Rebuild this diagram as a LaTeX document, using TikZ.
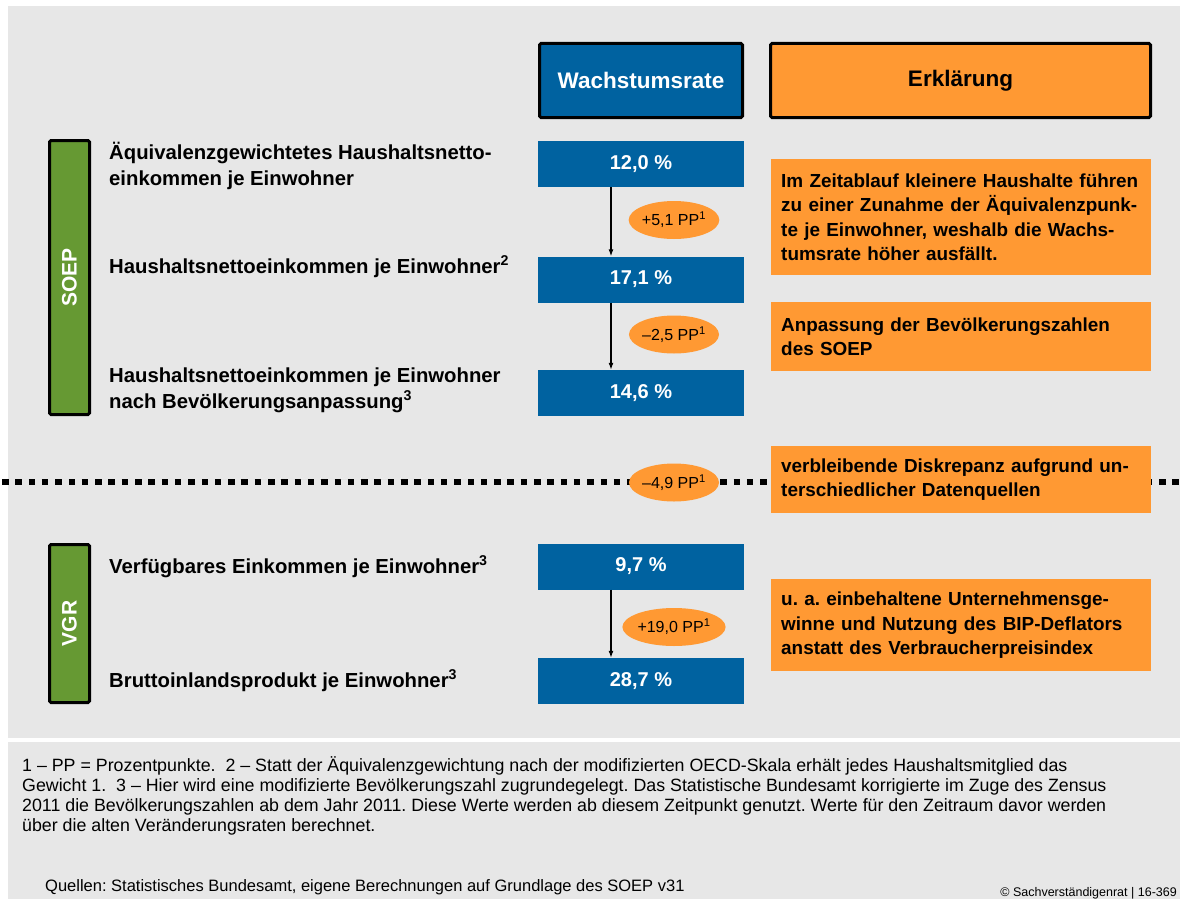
\documentclass[tikz,border=0pt]{standalone}
\usepackage{fontspec}
\setmainfont{Liberation Sans}
\usetikzlibrary{shapes.geometric,arrows.meta,positioning}

\definecolor{svblue}{RGB}{0,98,160}
\definecolor{svorange}{RGB}{255,153,51}
\definecolor{svgreen}{RGB}{102,153,51}
\definecolor{svgrey}{RGB}{231,231,231}

\frenchspacing
\tikzset{
  headbox/.style={draw=black, line width=3pt, rounded corners=1.5pt, minimum height=74pt,
    inner sep=0pt, font=\fontsize{22.5}{27}\selectfont\bfseries},
  ratebox/.style={fill=svblue, text=white, minimum width=206pt, minimum height=46pt,
    inner sep=0pt, font=\fontsize{20}{24}\selectfont\bfseries},
  notebox/.style={fill=svorange, anchor=north west, text width=360pt, inner xsep=10pt,
    inner ysep=0pt, align=left, font=\fontsize{18.9}{24.5}\selectfont\bfseries},
  ppoval/.style={ellipse, fill=svorange, minimum width=90pt, minimum height=38pt,
    inner sep=0pt, font=\fontsize{16}{19}\selectfont},
  groupbar/.style={draw=black, fill=svgreen, line width=3pt, rounded corners=1.5pt,
    rotate=90, minimum height=40pt, inner sep=0pt, text=white,
    font=\fontsize{21}{25}\selectfont\bfseries},
  rowlabel/.style={anchor=base west, align=left, inner sep=0pt,
    font=\fontsize{20.3}{26}\selectfont\bfseries},
  flow/.style={line width=1.2pt, -{Latex[length=7pt,width=5pt]}},
  splitline/.style={line width=6.5pt, dash pattern=on 6.5pt off 6.8pt},
  smalltext/.style={anchor=base west, align=left, inner sep=0pt,
    font=\fontsize{17.8}{20}\selectfont},
}

\begin{document}
\begin{tikzpicture}[x=1pt,y=-1pt]
\useasboundingbox (0,0) rectangle (1180,899);
% panels
\fill[white] (0,0) rectangle (1180,899);
\fill[svgrey] (8,6) rectangle (1180,738);
\fill[svgrey] (8,742) rectangle (1180,899);

% column heads
\node[headbox, fill=svblue, text=white, minimum width=203pt] (hrate) at (641,80.5) {Wachstumsrate};
\node[headbox, fill=svorange, minimum width=380pt] (hnote) at (960.5,80.5) {Erklärung};

% group bars
\node[groupbar, minimum width=274pt] (soep) at (69.5,277.5) {SOEP};
\node[groupbar, minimum width=158pt] (vgr) at (69.5,623.5) {VGR};

% row labels (anchored at the baseline of the last line)
\node[rowlabel] (l1) at (109,185) {Äquivalenzgewichtetes Haushaltsnetto-\\einkommen je Einwohner};
\node[rowlabel] (l2) at (109,273) {Haushaltsnettoeinkommen je Einwohner\textsuperscript{2}};
\node[rowlabel] (l3) at (109,408) {Haushaltsnettoeinkommen je Einwohner\\nach Bevölkerungsanpassung\textsuperscript{3}};
\node[rowlabel] (l4) at (109,573) {Verfügbares Einkommen je Einwohner\textsuperscript{3}};
\node[rowlabel] (l5) at (109,687) {Bruttoinlandsprodukt je Einwohner\textsuperscript{3}};

% growth rates
\node[ratebox] (r1) at (641,164) {12,0 \%};
\node[ratebox] (r2) at (641,279.5) {17,1 \%};
\node[ratebox] (r3) at (641,393) {14,6 \%};
\node[ratebox] (r4) at (641,566.5) {9,7 \%};
\node[ratebox] (r5) at (641,681) {28,7 \%};

\draw[flow] ([xshift=-30pt]r1.south) -- ([xshift=-30pt]r2.north);
\draw[flow] ([xshift=-30pt]r2.south) -- ([xshift=-30pt]r3.north);
\draw[flow] ([xshift=-30pt]r4.south) -- ([xshift=-30pt]r5.north);

% dotted split between SOEP and VGR
\coordinate (sl) at (2,482);
\coordinate (sr) at (1180,482);
\draw[splitline] (sl) -- (sr);

% differences
\node[ppoval] (d1) at (674,220) {+5,1 PP\textsuperscript{1}};
\node[ppoval] (d2) at (674,334.5) {–2,5 PP\textsuperscript{1}};
\node[ppoval] (d3) at (674,482.5) {–4,9 PP\textsuperscript{1}};
\node[ppoval] (d4) at (674,627) {+19,0 PP\textsuperscript{1}};

% explanations
\node[notebox, minimum height=116pt] (n1) at (771,159) {Im Zeitablauf kleinere Haushalte führen\\zu einer Zunahme der Äquivalenzpunk-\\te je Einwohner, weshalb die Wachs-\\tumsrate höher ausfällt.};
\node[notebox, minimum height=69pt] (n2) at (771,302) {Anpassung der Bevölkerungszahlen\\des SOEP};
\node[notebox, minimum height=67pt] (n3) at (771,446) {verbleibende Diskrepanz aufgrund un-\\terschiedlicher Datenquellen};
\node[notebox, minimum height=92pt] (n4) at (771,579) {u. a. einbehaltene Unternehmensge-\\winne und Nutzung des BIP-Deflators\\anstatt des Verbraucherpreisindex};

% footnotes and sources
\node[smalltext] (fn) at (22,831) {1 – PP = Prozentpunkte.\ \ 2 – Statt der Äquivalenzgewichtung nach der modifizierten OECD-Skala erhält jedes Haushaltsmitglied das\\Gewicht 1.\ \ 3 – Hier wird eine modifizierte Bevölkerungszahl zugrundegelegt. Das Statistische Bundesamt korrigierte im Zuge des Zensus\\2011 die Bevölkerungszahlen ab dem Jahr 2011. Diese Werte werden ab diesem Zeitpunkt genutzt. Werte für den Zeitraum davor werden\\über die alten Veränderungsraten berechnet.};
\node[smalltext, font=\fontsize{16.5}{20}\selectfont] (src) at (45,891) {Quellen: Statistisches Bundesamt, eigene Berechnungen auf Grundlage des SOEP v31};
\node[anchor=base east, inner sep=0pt, font=\fontsize{12.5}{14}\selectfont] (copy) at (1177,896) {© Sachverständigenrat | 16-369};
\end{tikzpicture}
\end{document}
